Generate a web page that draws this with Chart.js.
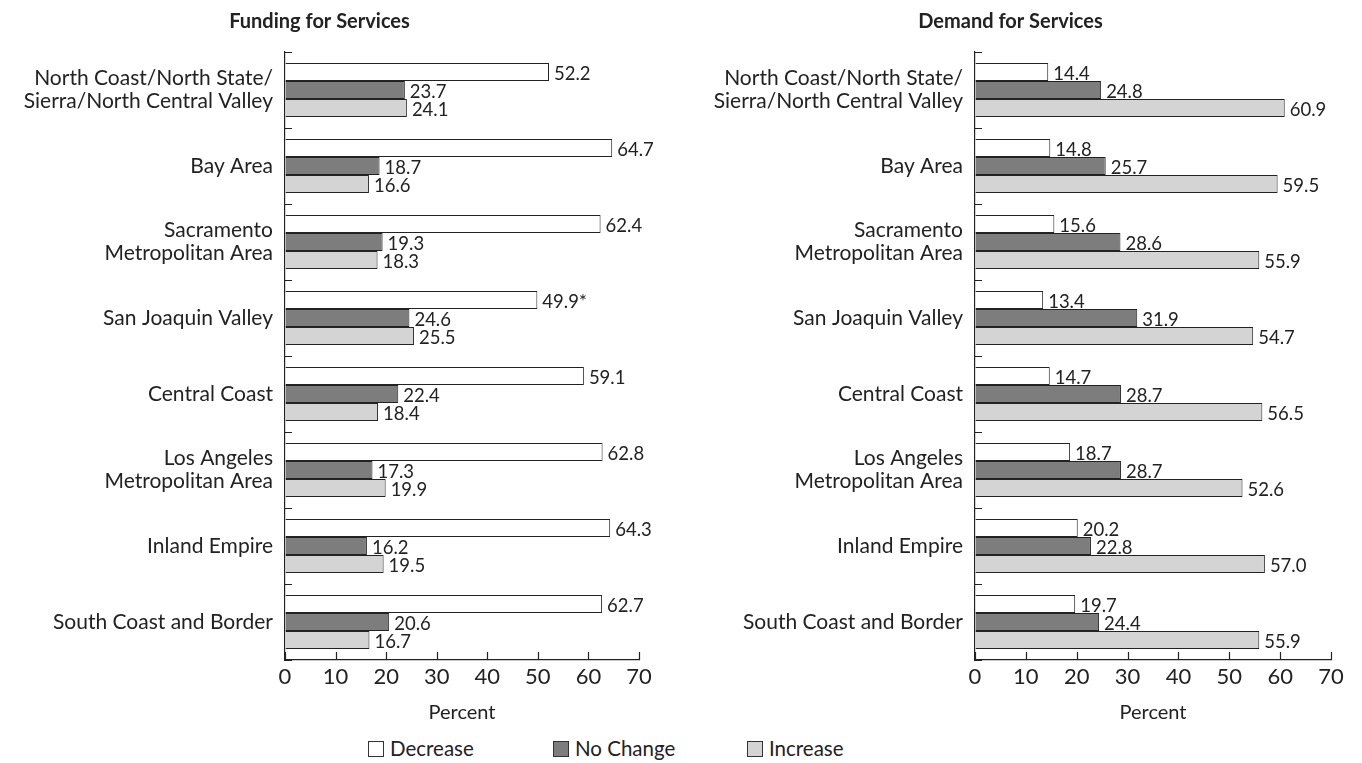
<!DOCTYPE html>
<html>
<head>
<meta charset="utf-8">
<script src="https://cdn.jsdelivr.net/npm/chart.js@4"></script>
<style>
  body { margin: 0; background: #fff; font-family: Lato, "Open Sans", sans-serif; }
  .wrap { position: absolute; top: 0; }
  #legend { position: absolute; top: 736px; left: 0; width: 1362px; height: 26px; font-size: 20.5px; color: #222; }
  #legend span.item { position: absolute; top: 0; white-space: nowrap; }
  #legend span.box { display: inline-block; width: 14px; height: 14px; border: 1px solid #333; margin-right: 6px; vertical-align: -1px; }
</style>
</head>
<body>
<div class="wrap" style="left:0; width:660px; height:725px;"><canvas id="funding"></canvas></div>
<div class="wrap" style="left:690px; width:670px; height:725px;"><canvas id="demand"></canvas></div>
<div id="legend">
  <span class="item" style="left:368px"><span class="box" style="background:#fff"></span>Decrease</span>
  <span class="item" style="left:553px"><span class="box" style="background:#7d7d7d"></span>No Change</span>
  <span class="item" style="left:747px"><span class="box" style="background:#d4d4d4"></span>Increase</span>
</div>
<script>
// Regions (categories)
const regions = [
  ['North Coast/North State/', 'Sierra/North Central Valley'],
  'Bay Area',
  ['Sacramento', 'Metropolitan Area'],
  'San Joaquin Valley',
  'Central Coast',
  ['Los Angeles', 'Metropolitan Area'],
  'Inland Empire',
  'South Coast and Border'
];

// Funding for Services (percent)
const fundingDecrease = [52.2, 64.7, 62.4, 49.9, 59.1, 62.8, 64.3, 62.7];
const fundingNoChange = [23.7, 18.7, 19.3, 24.6, 22.4, 17.3, 16.2, 20.6];
const fundingIncrease = [24.1, 16.6, 18.3, 25.5, 18.4, 19.9, 19.5, 16.7];
const fundingDecreaseNote = ['', '', '', '*', '', '', '', ''];

// Demand for Services (percent)
const demandDecrease = [14.4, 14.8, 15.6, 13.4, 14.7, 18.7, 20.2, 19.7];
const demandNoChange = [24.8, 25.7, 28.6, 31.9, 28.7, 28.7, 22.8, 24.4];
const demandIncrease = [60.9, 59.5, 55.9, 54.7, 56.5, 52.6, 57.0, 55.9];

const xTicks = [0, 10, 20, 30, 40, 50, 60, 70];

const FONT = 'Lato, "Open Sans", sans-serif';
const INK = '#222';

// value labels next to bar ends, plus inward tick marks
const barLabels = {
  id: 'barLabels',
  afterDatasetsDraw(chart) {
    const ctx = chart.ctx;
    ctx.save();
    ctx.font = '18.5px ' + FONT;
    ctx.fillStyle = INK;
    ctx.textBaseline = 'middle';
    ctx.textAlign = 'left';
    chart.data.datasets.forEach((ds, di) => {
      chart.getDatasetMeta(di).data.forEach((bar, i) => {
        const note = ds.notes ? ds.notes[i] : '';
        ctx.fillText(ds.data[i].toFixed(1) + note, bar.x + 5, bar.y + 2);
      });
    });
    ctx.restore();
  },
  afterDraw(chart) {
    const ctx = chart.ctx;
    const xs = chart.scales.x, ys = chart.scales.y;
    ctx.save();
    ctx.strokeStyle = INK;
    ctx.lineWidth = 1.2;
    ctx.beginPath();
    xTicks.forEach(v => {
      const x = Math.round(xs.getPixelForValue(v)) + 0.5;
      ctx.moveTo(x, ys.bottom);
      ctx.lineTo(x, ys.bottom - 8);
    });
    for (let i = 0; i <= regions.length; i++) {
      const y = Math.round(ys.getPixelForValue(i - 0.5)) + 0.5;
      ctx.moveTo(xs.left, y);
      ctx.lineTo(xs.left + 7, y);
    }
    ctx.stroke();
    ctx.restore();
  }
};

function makeChart(id, title, dec, noch, inc, decNotes) {
  const common = { borderColor: '#222', borderWidth: 1, borderSkipped: 'start',
                   barPercentage: 1.0, categoryPercentage: 0.71 };
  return new Chart(document.getElementById(id), {
    type: 'bar',
    data: {
      labels: regions,
      datasets: [
        Object.assign({ label: 'Decrease', data: dec, backgroundColor: '#ffffff', notes: decNotes }, common),
        Object.assign({ label: 'No Change', data: noch, backgroundColor: '#7d7d7d' }, common),
        Object.assign({ label: 'Increase', data: inc, backgroundColor: '#d4d4d4' }, common)
      ]
    },
    options: {
      indexAxis: 'y',
      responsive: true,
      maintainAspectRatio: false,
      animation: false,
      layout: { padding: { top: 0, right: id === 'funding' ? 21 : 29, bottom: 0, left: 0 } },
      plugins: {
        legend: { display: false },
        tooltip: { enabled: false },
        title: {
          display: true,
          text: title,
          color: INK,
          font: { family: FONT, size: 20, weight: 'bold' },
          padding: { top: 10, bottom: 18 }
        }
      },
      scales: {
        x: {
          min: 0, max: 70,
          afterBuildTicks(scale) { scale.ticks = xTicks.map(v => ({ value: v })); },
          afterFit(scale) { scale.height = 65; },
          grid: { display: true, drawOnChartArea: false, drawTicks: false },
          border: { display: true, color: INK, width: 1.2 },
          ticks: { color: INK, font: { family: FONT, size: 22 }, padding: 4 },
          title: { display: true, text: 'Percent', color: INK,
                   font: { family: FONT, size: 20 }, padding: { top: 0, bottom: 0 } }
        },
        y: {
          afterFit(scale) { scale.width = 285; },
          grid: { display: true, drawOnChartArea: false, drawTicks: false, offset: true },
          border: { display: true, color: INK, width: 1.2 },
          ticks: { color: INK, font: { family: FONT, size: 21, lineHeight: 1.1 }, padding: 12 }
        }
      }
    },
    plugins: [barLabels]
  });
}

makeChart('funding', 'Funding for Services', fundingDecrease, fundingNoChange, fundingIncrease, fundingDecreaseNote);
makeChart('demand', 'Demand for Services', demandDecrease, demandNoChange, demandIncrease, null);
</script>
</body>
</html>
